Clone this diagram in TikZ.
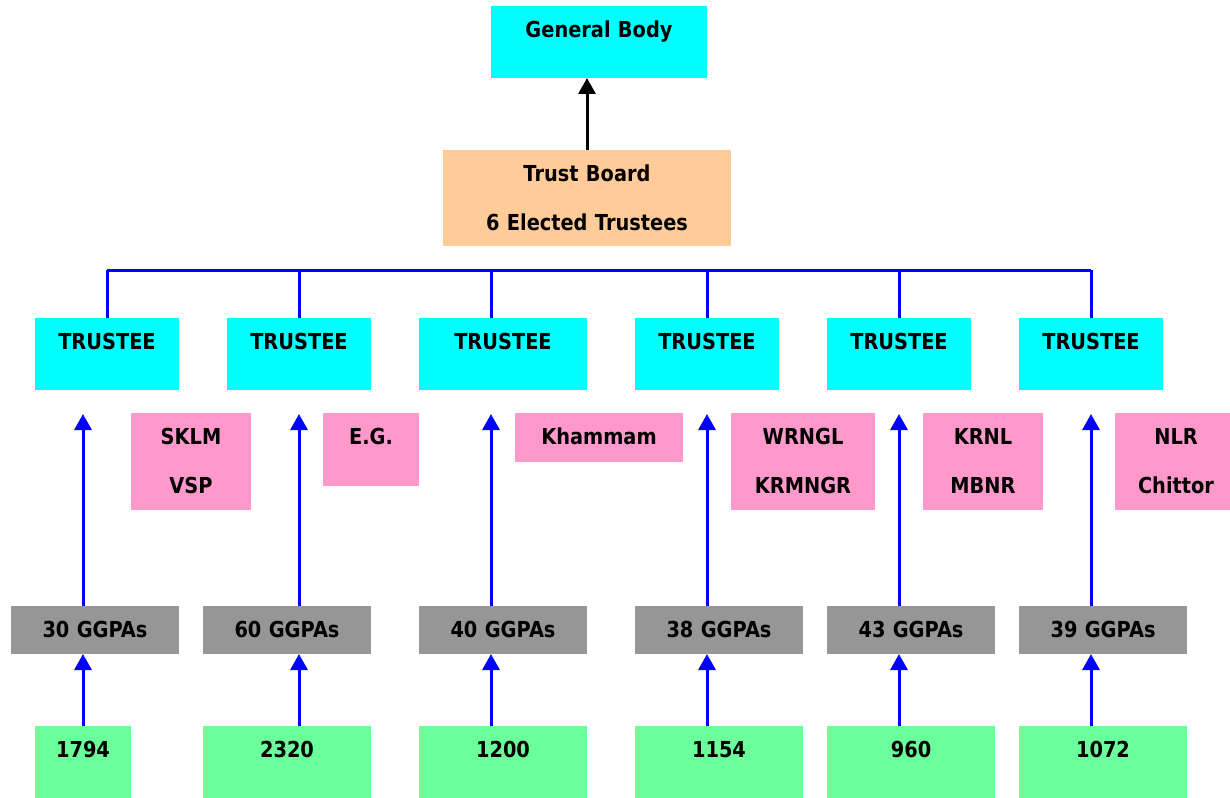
\documentclass[tikz,border=0pt]{standalone}
\usepackage{fontspec}
\newfontfamily\lbl{DejaVu Sans}[FakeStretch=0.88]
\usetikzlibrary{arrows.meta}
\definecolor{cyanbox}{HTML}{00FFFF}
\definecolor{peach}{HTML}{FFCC99}
\definecolor{pinkbox}{HTML}{FF99CC}
\definecolor{graybox}{HTML}{969696}
\definecolor{greenbox}{HTML}{6AFF9A}
\definecolor{linkblue}{HTML}{0000FF}
\begin{document}
\begin{tikzpicture}[x=1pt,y=-1pt,
  bx/.style n args={3}{anchor=north west, inner sep=0pt, outer sep=0pt,
    text width=#1pt, align=center, text height=31.7pt, text depth=#2pt,
    fill=#3, font=\lbl\bfseries\fontsize{22}{49}\selectfont},
  bus/.style={draw=linkblue, line width=3pt},
  uparrow/.style={draw=linkblue, line width=3pt, -{Triangle[width=17pt,length=16pt]}},
  blackarrow/.style={draw=black, line width=3pt, -{Triangle[width=17pt,length=16pt]}}]
\useasboundingbox (0,0) rectangle (1230,797);
\fill[white] (0,0) rectangle (1230,797);

% top
\node[bx={216}{40.3}{cyanbox}] (gb) at (491,6) {General Body};
\node[bx={288}{64.3}{peach}] (tb) at (443,150) {Trust Board\\6 Elected Trustees};

% trustees
\node[bx={144}{40.3}{cyanbox}] (t1) at (35,318) {TRUSTEE};
\node[bx={144}{40.3}{cyanbox}] (t2) at (227,318) {TRUSTEE};
\node[bx={168}{40.3}{cyanbox}] (t3) at (419,318) {TRUSTEE};
\node[bx={144}{40.3}{cyanbox}] (t4) at (635,318) {TRUSTEE};
\node[bx={144}{40.3}{cyanbox}] (t5) at (827,318) {TRUSTEE};
\node[bx={144}{40.3}{cyanbox}] (t6) at (1019,318) {TRUSTEE};

% districts
\node[bx={120}{65.3}{pinkbox}] (p1) at (131,413) {SKLM\\VSP};
\node[bx={96}{41.3}{pinkbox}] (p2) at (323,413) {E.G.};
\node[bx={168}{17.3}{pinkbox}] (p3) at (515,413) {Khammam};
\node[bx={144}{65.3}{pinkbox}] (p4) at (731,413) {WRNGL\\KRMNGR};
\node[bx={120}{65.3}{pinkbox}] (p5) at (923,413) {KRNL\\MBNR};
\node[bx={122}{65.3}{pinkbox}] (p6) at (1115,413) {NLR\\Chittor};

% GGPAs
\node[bx={168}{16.3}{graybox}] (g1) at (11,606) {30 GGPAs};
\node[bx={168}{16.3}{graybox}] (g2) at (203,606) {60 GGPAs};
\node[bx={168}{16.3}{graybox}] (g3) at (419,606) {40 GGPAs};
\node[bx={168}{16.3}{graybox}] (g4) at (635,606) {38 GGPAs};
\node[bx={168}{16.3}{graybox}] (g5) at (827,606) {43 GGPAs};
\node[bx={168}{16.3}{graybox}] (g6) at (1019,606) {39 GGPAs};

% numbers
\node[bx={96}{40.3}{greenbox}] (n1) at (35,726) {1794};
\node[bx={168}{40.3}{greenbox}] (n2) at (203,726) {2320};
\node[bx={168}{40.3}{greenbox}] (n3) at (419,726) {1200};
\node[bx={168}{40.3}{greenbox}] (n4) at (635,726) {1154};
\node[bx={168}{40.3}{greenbox}] (n5) at (827,726) {960};
\node[bx={168}{40.3}{greenbox}] (n6) at (1019,726) {1072};

% connectors
\draw[blackarrow] (tb.north) -- (tb.north |- gb.south);

\coordinate (d1) at (107,270);
\coordinate (d2) at (299,270);
\coordinate (d3) at (491,270);
\coordinate (d4) at (707,270);
\coordinate (d5) at (899,270);
\coordinate (d6) at (1091,270);
\draw[bus] (d1) -- (d6);
\foreach \i in {1,...,6} {
  \draw[bus] (d\i) -- (d\i |- t\i.north);
}

\coordinate (a1) at (83,0);
\coordinate (a2) at (299,0);
\coordinate (a3) at (491,0);
\coordinate (a4) at (707,0);
\coordinate (a5) at (899,0);
\coordinate (a6) at (1091,0);
\foreach \i in {1,...,6} {
  \draw[uparrow, shorten >=24pt] (g\i.north -| a\i) -- (t\i.south -| a\i);
  \draw[uparrow] (n\i.north -| a\i) -- (g\i.south -| a\i);
}
\end{tikzpicture}
\end{document}
